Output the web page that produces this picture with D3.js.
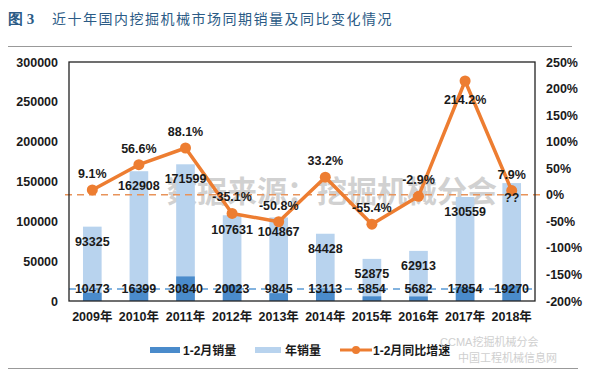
<!DOCTYPE html>
<html>
<head>
<meta charset="utf-8">
<script src="https://cdn.jsdelivr.net/npm/d3@7"></script>
<style>
body { margin: 0; background: #fff; }
text { font-family: Arial, "Liberation Sans", "Noto Sans CJK SC", sans-serif; }
</style>
</head>
<body>
<div id="chart"></div>
<script>
// data
var years = ["2009年","2010年","2011年","2012年","2013年","2014年","2015年","2016年","2017年","2018年"];
var janFeb = [10473, 16399, 30840, 20023, 9845, 13113, 5854, 5682, 17854, 19270];
var annual = [93325, 162908, 171599, 107631, 104867, 84428, 52875, 62913, 130559, 148000];
var annualLabels = ["93325","162908","171599","107631","104867","84428","52875","62913","130559","??"];
var growth = [9.1, 56.6, 88.1, -35.1, -50.8, 33.2, -55.4, -2.9, 214.2, 7.9];
var leftTicks = [0, 50000, 100000, 150000, 200000, 250000, 300000];
var rightTicks = [-200, -150, -100, -50, 0, 50, 100, 150, 200, 250];

var W = 600, H = 377;
var margin = {top: 62, right: 65, bottom: 76, left: 69},
    width = W - margin.left - margin.right,
    height = H - margin.top - margin.bottom;

var svg = d3.select("#chart").append("svg")
  .attr("width", W)
  .attr("height", H);

// title and rules
svg.append("text")
  .attr("x", 8).attr("y", 24)
  .style("font-family", "'Liberation Serif', serif")
  .style("font-weight", "bold")
  .style("font-size", "15px")
  .style("fill", "#2b5b86")
  .text("图 3");
svg.append("text")
  .attr("x", 52).attr("y", 24)
  .style("font-family", "'Noto Sans CJK SC', sans-serif")
  .style("font-size", "14px")
  .style("fill", "#2b5b86")
  .style("letter-spacing", "1.5px")
  .text("近十年国内挖掘机械市场同期销量及同比变化情况");
svg.append("line").attr("x1", 8).attr("x2", 572).attr("y1", 46.5).attr("y2", 46.5)
  .style("stroke", "#999").style("stroke-width", 1);
svg.append("line").attr("x1", 8).attr("x2", 578).attr("y1", 368.5).attr("y2", 368.5)
  .style("stroke", "#999").style("stroke-width", 1);

var g = svg.append("g")
  .attr("transform", "translate(" + margin.left + "," + margin.top + ")");

// scales
var x = d3.scaleBand().domain(years).range([0, width]).paddingInner(0.6).paddingOuter(0.3);
var y = d3.scaleLinear().domain([0, 300000]).range([height, 0]);
var y2 = d3.scaleLinear().domain([-200, 250]).range([height, 0]);
var xc = function(d) { return x(d) + x.bandwidth() / 2; };

// watermark
g.append("text")
  .attr("x", width / 2 + 30).attr("y", 140)
  .attr("text-anchor", "middle")
  .style("font-family", "'Noto Sans CJK SC', sans-serif")
  .style("font-weight", "bold")
  .style("font-size", "30px")
  .style("fill", "#9a9a9a")
  .style("opacity", 0.45)
  .text("数据来源：挖掘机械分会");

// annual bars
g.selectAll(".bar-year")
  .data(annual)
  .enter().append("rect")
  .attr("class", "bar-year")
  .attr("x", function(d, i) { return x(years[i]); })
  .attr("width", x.bandwidth())
  .attr("y", function(d) { return y(d); })
  .attr("height", function(d) { return height - y(d); })
  .style("fill", "#b8d3ee");

// jan-feb bars
g.selectAll(".bar-jf")
  .data(janFeb)
  .enter().append("rect")
  .attr("class", "bar-jf")
  .attr("x", function(d, i) { return x(years[i]); })
  .attr("width", x.bandwidth())
  .attr("y", function(d) { return y(d); })
  .attr("height", function(d) { return height - y(d); })
  .style("fill", "#4a8bcb");

// average line of jan-feb
var jfMean = d3.mean(janFeb);
g.append("line")
  .attr("x1", 0).attr("x2", width)
  .attr("y1", y(jfMean)).attr("y2", y(jfMean))
  .style("stroke", "#5b9bd5").style("stroke-width", 1.5)
  .style("stroke-dasharray", "7,5");

// zero line of growth
g.append("line")
  .attr("x1", -4).attr("x2", width + 6)
  .attr("y1", y2(0)).attr("y2", y2(0))
  .style("stroke", "#e8935a").style("stroke-width", 1.5)
  .style("stroke-dasharray", "7,5");

// plot border
g.append("rect")
  .attr("width", width).attr("height", height)
  .style("fill", "none").style("stroke", "#222").style("stroke-width", 1.3);

// growth line
var valueline = d3.line()
  .x(function(d, i) { return xc(years[i]); })
  .y(function(d) { return y2(d); });
g.append("path")
  .datum(growth)
  .attr("d", valueline)
  .style("fill", "none")
  .style("stroke", "#ed7d31")
  .style("stroke-width", 3.5)
  .style("stroke-linejoin", "round");
g.selectAll(".dot")
  .data(growth)
  .enter().append("circle")
  .attr("cx", function(d, i) { return xc(years[i]); })
  .attr("cy", function(d) { return y2(d); })
  .attr("r", 5.5)
  .style("fill", "#ed7d31");

var lab = function(sel) {
  sel.style("font-weight", "bold").style("font-size", "12.5px").style("fill", "#1a1a1a")
    .attr("text-anchor", "middle");
};

// growth labels
g.selectAll(".glab")
  .data(growth)
  .enter().append("text")
  .attr("x", function(d, i) { return xc(years[i]); })
  .attr("y", function(d, i) { return i === 8 ? y2(d) + 23 : y2(d) - 12; })
  .text(function(d) { return d.toFixed(1) + "%"; })
  .call(lab);

// annual labels
g.selectAll(".alab")
  .data(annual)
  .enter().append("text")
  .attr("x", function(d, i) { return xc(years[i]); })
  .attr("y", function(d) { return y(d) + 19; })
  .text(function(d, i) { return annualLabels[i]; })
  .call(lab);

// jan-feb labels
g.selectAll(".jlab")
  .data(janFeb)
  .enter().append("text")
  .attr("x", function(d, i) { return xc(years[i]); })
  .attr("y", height - 8)
  .text(function(d) { return d; })
  .call(lab);

// axes
var axL = g.append("g")
  .call(d3.axisLeft(y).tickValues(leftTicks).tickSize(0).tickPadding(11).tickFormat(d3.format("d")));
var axR = g.append("g")
  .attr("transform", "translate(" + width + ",0)")
  .call(d3.axisRight(y2).tickValues(rightTicks).tickSize(0).tickPadding(11)
    .tickFormat(function(d) { return d + "%"; }));
var axB = g.append("g")
  .attr("transform", "translate(0," + height + ")")
  .call(d3.axisBottom(x).tickSize(0).tickPadding(11));
[axL, axR, axB].forEach(function(a) {
  a.select(".domain").remove();
  a.selectAll("text").style("font-weight", "bold").style("font-size", "12.5px")
    .style("fill", "#1a1a1a").style("font-family", "Arial, 'Noto Sans CJK SC', sans-serif");
});

// legend
var leg = svg.append("g").attr("transform", "translate(0,350)");
leg.append("rect").attr("x", 150).attr("y", -3).attr("width", 30).attr("height", 6).style("fill", "#4a8bcb");
leg.append("text").attr("x", 183).attr("y", 5).text("1-2月销量")
  .style("font-weight", "bold").style("font-size", "12px").style("fill", "#1a1a1a");
leg.append("rect").attr("x", 255).attr("y", -3).attr("width", 26).attr("height", 6).style("fill", "#b8d3ee");
leg.append("text").attr("x", 285).attr("y", 5).text("年销量")
  .style("font-weight", "bold").style("font-size", "12px").style("fill", "#1a1a1a");
leg.append("line").attr("x1", 340).attr("x2", 372).attr("y1", 0).attr("y2", 0)
  .style("stroke", "#ed7d31").style("stroke-width", 3);
leg.append("circle").attr("cx", 356).attr("cy", 0).attr("r", 4).style("fill", "#ed7d31");
leg.append("text").attr("x", 373).attr("y", 5).text("1-2月同比增速")
  .style("font-weight", "bold").style("font-size", "12px").style("fill", "#1a1a1a");

// faint site marks bottom right
svg.append("text").attr("x", 440).attr("y", 346).text("CCMA挖掘机械分会")
  .style("font-size", "11px").style("fill", "#bbb").style("opacity", 0.7);
svg.append("text").attr("x", 458).attr("y", 362).text("中国工程机械信息网")
  .style("font-size", "11px").style("fill", "#bbb").style("opacity", 0.7);
</script>
</body>
</html>
